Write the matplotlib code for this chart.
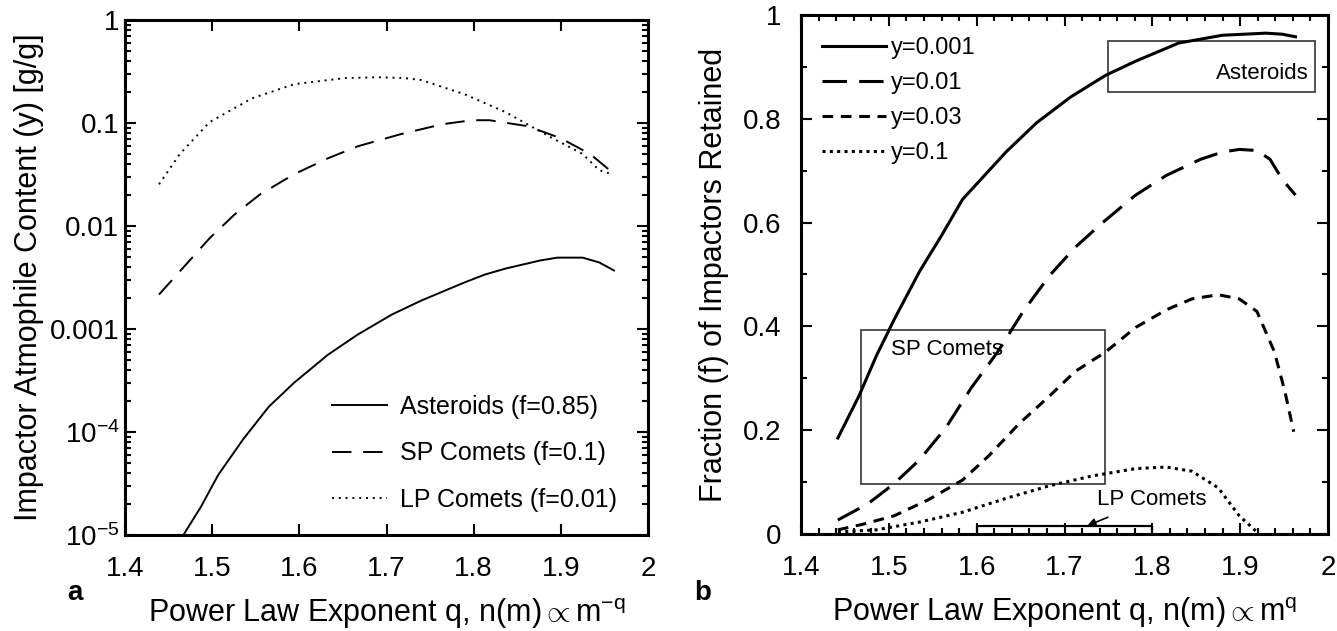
import matplotlib
matplotlib.use("Agg")
import matplotlib.pyplot as plt
import matplotlib.ticker as mticker
from matplotlib.patches import Rectangle
import numpy as np

plt.rcParams['font.family'] = ['Liberation Sans', 'DejaVu Sans']
plt.rcParams['mathtext.fontset'] = 'custom'
plt.rcParams['mathtext.rm'] = 'Liberation Sans'
plt.rcParams['mathtext.it'] = 'Liberation Sans'
plt.rcParams['mathtext.sf'] = 'Liberation Sans'

# ---------------- Panel a data ----------------
q_ast_a = [1.467, 1.487, 1.507, 1.536, 1.565, 1.594, 1.633, 1.667, 1.706, 1.740, 1.789,
           1.813, 1.837, 1.876, 1.896, 1.925, 1.944, 1.961]
y_ast_a = [1.0e-5, 1.87e-5, 3.84e-5, 8.6e-5, 1.76e-4, 3.01e-4, 5.64e-4, 8.83e-4, 1.38e-3,
           1.89e-3, 2.82e-3, 3.38e-3, 3.87e-3, 4.62e-3, 4.93e-3, 4.93e-3, 4.43e-3, 3.70e-3]

q_sp_a = [1.439, 1.468, 1.497, 1.526, 1.555, 1.594, 1.633, 1.667, 1.716, 1.764, 1.798,
          1.818, 1.862, 1.900, 1.934, 1.959]
y_sp_a = [2.16e-3, 4.05e-3, 7.6e-3, 1.30e-2, 2.03e-2, 3.18e-2, 4.55e-2, 5.94e-2, 7.78e-2,
          9.73e-2, 0.1064, 0.1064, 0.0931, 0.0711, 0.0497, 0.0332]

q_lp_a = [1.439, 1.463, 1.497, 1.546, 1.594, 1.633, 1.653, 1.691, 1.721, 1.740, 1.789,
          1.837, 1.886, 1.925, 1.944, 1.959]
y_lp_a = [0.0254, 0.0501, 0.102, 0.174, 0.238, 0.261, 0.273, 0.278, 0.273, 0.261, 0.191,
          0.127, 0.0745, 0.0501, 0.0348, 0.0318]

labels_a = ['Asteroids (f=0.85)', 'SP Comets (f=0.1)', 'LP Comets (f=0.01)']

# ---------------- Panel b data ----------------
q_y001 = [1.442, 1.466, 1.486, 1.506, 1.535, 1.560, 1.584, 1.609, 1.634, 1.668, 1.707,
          1.747, 1.781, 1.830, 1.880, 1.929, 1.948, 1.963]
f_y001 = [0.185, 0.266, 0.344, 0.413, 0.506, 0.575, 0.645, 0.691, 0.737, 0.792, 0.842,
          0.884, 0.911, 0.946, 0.961, 0.965, 0.963, 0.958]

q_y01 = [1.442, 1.476, 1.506, 1.535, 1.565, 1.594, 1.624, 1.653, 1.683, 1.712, 1.742,
         1.781, 1.816, 1.855, 1.880, 1.899, 1.919, 1.934, 1.948, 1.963]
f_y01 = [0.027, 0.058, 0.097, 0.143, 0.205, 0.282, 0.351, 0.429, 0.498, 0.552, 0.598,
         0.653, 0.691, 0.722, 0.736, 0.741, 0.739, 0.722, 0.683, 0.653]

q_y03 = [1.442, 1.471, 1.506, 1.545, 1.584, 1.614, 1.648, 1.683, 1.712, 1.747, 1.781,
         1.816, 1.845, 1.875, 1.899, 1.919, 1.939, 1.951, 1.961]
f_y03 = [0.008, 0.019, 0.035, 0.066, 0.104, 0.151, 0.212, 0.266, 0.313, 0.351, 0.398,
         0.432, 0.453, 0.461, 0.453, 0.429, 0.351, 0.274, 0.197]

q_y1 = [1.442, 1.486, 1.535, 1.584, 1.634, 1.683, 1.732, 1.781, 1.816, 1.845, 1.875,
        1.899, 1.919]
f_y1 = [0.004, 0.008, 0.023, 0.042, 0.069, 0.093, 0.112, 0.126, 0.129, 0.121, 0.089,
        0.035, 0.004]

labels_b = ['y=0.001', 'y=0.01', 'y=0.03', 'y=0.1']

# regions (q range, f range)
ast_box = (1.750, 1.985, 0.852, 0.950)
sp_box = (1.468, 1.746, 0.097, 0.394)
lp_box = (1.600, 1.800, 0.0, 0.016)

x_ticks = [1.4, 1.5, 1.6, 1.7, 1.8, 1.9, 2.0]
x_ticklabels = ['1.4', '1.5', '1.6', '1.7', '1.8', '1.9', '2']
ya_ticks = [1e-5, 1e-4, 1e-3, 1e-2, 1e-1, 1]
ya_ticklabels = [r'10$^{\mathregular{-5}}$', r'10$^{\mathregular{-4}}$', '0.001', '0.01', '0.1', '1']
yb_ticks = [0, 0.2, 0.4, 0.6, 0.8, 1.0]
yb_ticklabels = ['0', '0.2', '0.4', '0.6', '0.8', '1']

TFS = 20   # tick labels
LFS = 22   # axis labels
fig = plt.figure(figsize=(13.37, 6.31), dpi=100)
axa = fig.add_axes([125/1337, 1-535/631, 523/1337, 515/631])
axb = fig.add_axes([801/1337, 1-534/631, 527/1337, 519/631])

for ax in (axa, axb):
    for s in ax.spines.values():
        s.set_linewidth(2.2)
    ax.tick_params(which='both', direction='in', top=True, right=True, labelsize=TFS,
                   width=1.5)
    ax.tick_params(axis='x', which='both', pad=15)
    ax.tick_params(which='major', length=8)
    ax.tick_params(which='minor', length=4)
axa.tick_params(axis='y', which='both', pad=4)
axb.tick_params(axis='y', which='both', pad=14)

xlab_a = r'Power Law Exponent q, n(m)$\propto$m$^{\mathregular{-q}}$'
xlab_b = r'Power Law Exponent q, n(m)$\propto$m$^{\mathregular{q}}$'

# Panel a
axa.set_yscale('log')
axa.plot(q_ast_a, y_ast_a, color='black', lw=1.4, ls='-', label=labels_a[0])
axa.plot(q_sp_a, y_sp_a, color='black', lw=1.4, ls=(0, (10, 6)), label=labels_a[1])
axa.plot(q_lp_a, y_lp_a, color='black', lw=1.4, ls=(0, (1, 2.5)), label=labels_a[2])
axa.set_xlim(1.4, 2.0)
axa.set_ylim(1e-5, 1)
axa.set_xticks(x_ticks)
axa.set_xticklabels(x_ticklabels)
axa.set_yticks(ya_ticks)
axa.set_yticklabels(ya_ticklabels)
axa.yaxis.set_minor_locator(mticker.LogLocator(base=10, subs=np.arange(2, 10), numticks=20))
axa.yaxis.set_minor_formatter(mticker.NullFormatter())
axa.set_xlabel(xlab_a, fontsize=LFS, labelpad=10)
axa.set_ylabel('Impactor Atmophile Content (y) [g/g]', fontsize=LFS, labelpad=4)
axa.legend(loc='upper left', bbox_to_anchor=(0.396, 0.272), frameon=False, fontsize=18,
           handlelength=2.2, handletextpad=0.5, labelspacing=0.9, borderpad=0, borderaxespad=0)

# Panel b
axb.plot(q_y001, f_y001, color='black', lw=2.2, ls='-', label=labels_b[0])
axb.plot(q_y01, f_y01, color='black', lw=2.2, ls=(0, (8, 4)), label=labels_b[1])
axb.plot(q_y03, f_y03, color='black', lw=2.2, ls=(0, (3.5, 2.5)), label=labels_b[2])
axb.plot(q_y1, f_y1, color='black', lw=2.2, ls=(0, (1, 1.4)), label=labels_b[3])
axb.set_xlim(1.4, 2.0)
axb.set_ylim(0, 1)
axb.set_xticks(x_ticks)
axb.set_xticklabels(x_ticklabels)
axb.set_yticks(yb_ticks)
axb.set_yticklabels(yb_ticklabels)
axb.xaxis.set_minor_locator(mticker.MultipleLocator(0.02))
axb.yaxis.set_minor_locator(mticker.MultipleLocator(0.1))
axb.set_xlabel(xlab_b, fontsize=LFS, labelpad=10)
axb.set_ylabel('Fraction (f) of Impactors Retained', fontsize=LFS, labelpad=10)
axb.legend(loc='upper left', bbox_to_anchor=(0.04, 0.957), frameon=False, fontsize=17,
           handlelength=2.7, handletextpad=0.2, labelspacing=0.55, borderpad=0, borderaxespad=0)

for (x0, x1, y0, y1) in (ast_box, sp_box):
    axb.add_patch(Rectangle((x0, y0), x1 - x0, y1 - y0, fill=False, edgecolor='#444444', lw=1.3))
x0, x1, y0, y1 = lp_box
axb.plot([x0, x0, x1, x1], [y0, y1, y1, y0], color='black', lw=1.6)

axb.text(1.978, 0.888, 'Asteroids', ha='right', va='center', fontsize=16)
axb.text(1.503, 0.355, 'SP Comets', ha='left', va='center', fontsize=16)
axb.annotate('LP Comets', xy=(1.726, 0.016), xytext=(1.737, 0.067), ha='left', va='center',
             fontsize=16, arrowprops=dict(arrowstyle='-|>', color='black', lw=1.2,
                                          shrinkA=9, shrinkB=0, mutation_scale=12))

fig.text(75/1337, 1-593/631, 'a', fontsize=20, fontweight='bold', ha='center', va='center')
fig.text(703/1337, 1-593/631, 'b', fontsize=20, fontweight='bold', ha='center', va='center')

fig.savefig('out.png', dpi=100)
